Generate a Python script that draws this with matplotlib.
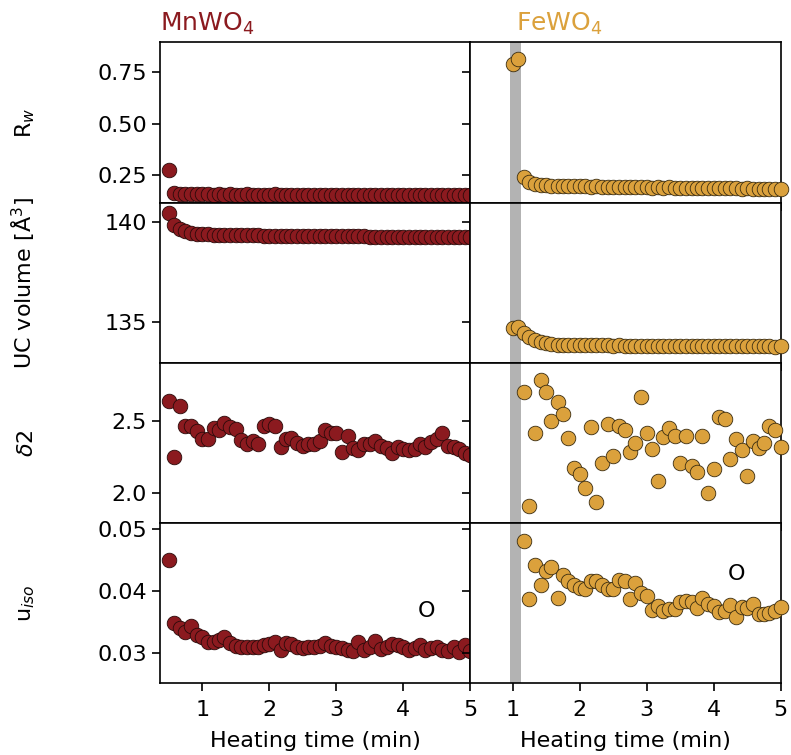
import numpy as np
import matplotlib.pyplot as plt

# Heating time (min), one frame every 5 s
mn_time = [0.50, 0.58, 0.67, 0.75, 0.83, 0.92, 1.00, 1.08, 1.17, 1.25, 1.33,
           1.42, 1.50, 1.58, 1.67, 1.75, 1.83, 1.92, 2.00, 2.08, 2.17, 2.25,
           2.33, 2.42, 2.50, 2.58, 2.67, 2.75, 2.83, 2.92, 3.00, 3.08, 3.17,
           3.25, 3.33, 3.42, 3.50, 3.58, 3.67, 3.75, 3.83, 3.92, 4.00, 4.08,
           4.17, 4.25, 4.33, 4.42, 4.50, 4.58, 4.67, 4.75, 4.83, 4.92, 5.00]
fe_time = [1.00, 1.08, 1.17, 1.25, 1.33, 1.42, 1.50, 1.58, 1.67, 1.75, 1.83,
           1.92, 2.00, 2.08, 2.17, 2.25, 2.33, 2.42, 2.50, 2.58, 2.67, 2.75,
           2.83, 2.92, 3.00, 3.08, 3.17, 3.25, 3.33, 3.42, 3.50, 3.58, 3.67,
           3.75, 3.83, 3.92, 4.00, 4.08, 4.17, 4.25, 4.33, 4.42, 4.50, 4.58,
           4.67, 4.75, 4.83, 4.92, 5.00]

mn_rw = [0.276, 0.162, 0.159, 0.158, 0.158, 0.157, 0.157, 0.157, 0.156, 0.157,
         0.156, 0.157, 0.156, 0.156, 0.157, 0.156, 0.156, 0.155, 0.156, 0.157,
         0.156, 0.155, 0.156, 0.156, 0.155, 0.156, 0.156, 0.155, 0.156, 0.155,
         0.156, 0.156, 0.155, 0.155, 0.156, 0.155, 0.155, 0.156, 0.155, 0.155,
         0.156, 0.155, 0.155, 0.154, 0.155, 0.155, 0.156, 0.155, 0.154, 0.155,
         0.155, 0.154, 0.155, 0.155, 0.154]
fe_rw = [0.792, 0.815, 0.240, 0.219, 0.208, 0.203, 0.200, 0.199, 0.198, 0.197,
         0.198, 0.196, 0.195, 0.196, 0.194, 0.195, 0.193, 0.194, 0.192, 0.193,
         0.194, 0.192, 0.191, 0.193, 0.192, 0.190, 0.191, 0.190, 0.191, 0.189,
         0.190, 0.188, 0.189, 0.190, 0.188, 0.187, 0.188, 0.186, 0.187, 0.188,
         0.186, 0.185, 0.186, 0.185, 0.184, 0.185, 0.184, 0.183, 0.184]

mn_vol = [140.45, 139.87, 139.65, 139.53, 139.46, 139.42, 139.40, 139.38, 139.37, 139.36,
          139.35, 139.35, 139.34, 139.34, 139.33, 139.33, 139.33, 139.32, 139.32, 139.32,
          139.31, 139.31, 139.31, 139.30, 139.30, 139.30, 139.30, 139.29, 139.29, 139.29,
          139.29, 139.28, 139.28, 139.28, 139.28, 139.28, 139.27, 139.27, 139.27, 139.27,
          139.27, 139.26, 139.26, 139.26, 139.26, 139.26, 139.26, 139.25, 139.25, 139.25,
          139.25, 139.25, 139.25, 139.24, 139.24]
fe_vol = [134.70, 134.75, 134.45, 134.23, 134.08, 133.98, 133.92, 133.88, 133.86, 133.85,
          133.84, 133.84, 133.83, 133.83, 133.82, 133.83, 133.82, 133.82, 133.81, 133.82,
          133.81, 133.81, 133.80, 133.81, 133.80, 133.80, 133.80, 133.79, 133.80, 133.79,
          133.79, 133.79, 133.78, 133.79, 133.78, 133.78, 133.79, 133.78, 133.78, 133.77,
          133.78, 133.77, 133.77, 133.78, 133.77, 133.77, 133.77, 133.76, 133.77]

mn_d2 = [2.646, 2.252, 2.606, 2.465, 2.465, 2.43, 2.38, 2.38, 2.454, 2.44,
         2.49, 2.46, 2.444, 2.37, 2.34, 2.36, 2.345, 2.468, 2.484, 2.465,
         2.32, 2.38, 2.384, 2.35, 2.33, 2.34, 2.34, 2.363, 2.44, 2.42,
         2.42, 2.287, 2.396, 2.317, 2.30, 2.34, 2.345, 2.36, 2.33, 2.315,
         2.28, 2.32, 2.31, 2.30, 2.31, 2.34, 2.32, 2.356, 2.38, 2.42,
         2.33, 2.32, 2.31, 2.28, 2.264]
# first two FeWO4 frames were not refined for delta2 / uiso
fe_d2 = [np.nan, np.nan,
         2.704, 1.910, 2.419, 2.792, 2.704, 2.502, 2.634, 2.551, 2.387, 2.176,
         2.132, 2.037, 2.458, 1.935, 2.213, 2.481, 2.259, 2.468, 2.438, 2.287,
         2.35, 2.674, 2.419, 2.31, 2.086, 2.391, 2.454, 2.396, 2.208, 2.398,
         2.188, 2.148, 2.396, 2.0, 2.171, 2.530, 2.514, 2.236, 2.38, 2.30,
         2.12, 2.366, 2.315, 2.352, 2.468, 2.438, 2.32]

mn_uiso = [0.0449, 0.0348, 0.0340, 0.0334, 0.0343, 0.0329, 0.0326, 0.0318, 0.0318, 0.0321,
           0.0325, 0.0316, 0.0311, 0.0310, 0.0309, 0.0309, 0.0310, 0.0313, 0.0314, 0.0318,
           0.0305, 0.0316, 0.0314, 0.0309, 0.0308, 0.0310, 0.0309, 0.0311, 0.0316, 0.0311,
           0.0310, 0.0308, 0.0305, 0.0303, 0.0318, 0.0305, 0.0310, 0.0319, 0.0306, 0.0310,
           0.0314, 0.0312, 0.0309, 0.0305, 0.0308, 0.0312, 0.0305, 0.0308, 0.0310, 0.0305,
           0.0303, 0.0309, 0.0302, 0.0313, 0.0303]
fe_uiso = [np.nan, np.nan,
           0.0480, 0.0386, 0.0442, 0.0410, 0.0432, 0.0439, 0.0389, 0.0425, 0.0415, 0.0410,
           0.0405, 0.0403, 0.0415, 0.0415, 0.0410, 0.0402, 0.0402, 0.0418, 0.0415, 0.0387,
           0.0412, 0.0396, 0.0391, 0.0369, 0.0375, 0.0368, 0.0370, 0.0371, 0.0382, 0.0384,
           0.0382, 0.0372, 0.0389, 0.0378, 0.0375, 0.0365, 0.0368, 0.0377, 0.0357, 0.0373,
           0.0372, 0.0378, 0.0362, 0.0362, 0.0364, 0.0367, 0.0373]

mn_color = '#8b1a1f'
fe_color = '#dba13c'

row_labels = ['R$_w$', 'UC volume [$\\mathrm{\\AA}^3$]', '$\\delta2$', 'u$_{iso}$']
row_lims = [(0.117, 0.896), (132.95, 140.98), (1.79, 2.91), (0.0251, 0.0509)]
row_ticks = [[0.25, 0.50, 0.75], [135, 140], [2.0, 2.5], [0.03, 0.04, 0.05]]
tick_fmt = ['%.2f', '%d', '%.1f', '%.2f']

mn_rows = [mn_rw, mn_vol, mn_d2, mn_uiso]
fe_rows = [fe_rw, fe_vol, fe_d2, fe_uiso]

plt.rcParams['font.size'] = 16

fig, axes = plt.subplots(4, 2, figsize=(7.91, 7.55), dpi=100,
                         sharex=True, sharey='row')
fig.subplots_adjust(left=0.2023, right=0.987, top=0.944, bottom=0.095,
                    hspace=0, wspace=0)

for r in range(4):
    ax_mn, ax_fe = axes[r]
    ax_mn.scatter(mn_time, mn_rows[r], s=110, color=mn_color, edgecolor='#2a0a0a',
                  linewidth=0.6, zorder=3, clip_on=False)
    ax_fe.scatter(fe_time, fe_rows[r], s=110, color=fe_color, edgecolor='#3a2c10',
                  linewidth=0.6, zorder=3, clip_on=False)
    ax_fe.axvspan(0.96, 1.12, color='#b3b3b3', lw=0, zorder=1)
    ax_mn.set_ylim(*row_lims[r])
    ax_mn.set_yticks(row_ticks[r])
    ax_mn.yaxis.set_major_formatter(plt.FormatStrFormatter(tick_fmt[r]))
    ax_mn.set_ylabel(row_labels[r])
    ax_mn.yaxis.set_label_coords(-0.395, 0.5)
    for ax in (ax_mn, ax_fe):
        for sp in ax.spines.values():
            sp.set_linewidth(1.2)
        ax.tick_params(length=6, width=1.2)

axes[0, 0].set_xlim(0.37, 5.0)
axes[0, 0].set_xticks([1, 2, 3, 4, 5])
for ax in axes[3]:
    ax.tick_params(axis='x', pad=6)
    ax.set_xlabel('Heating time (min)', labelpad=8)

axes[3, 0].text(4.34, 0.0367, 'O', ha='center', va='center')
axes[3, 1].text(4.34, 0.0427, 'O', ha='center', va='center')

axes[0, 0].text(0.0, 1.03, 'MnWO$_4$', transform=axes[0, 0].transAxes,
                color=mn_color, fontsize=18, ha='left', va='bottom')
axes[0, 1].text(1.05, 1.03, 'FeWO$_4$', transform=axes[0, 1].get_xaxis_transform(),
                color=fe_color, fontsize=18, ha='left', va='bottom')

fig.savefig('out.png', dpi=100)
